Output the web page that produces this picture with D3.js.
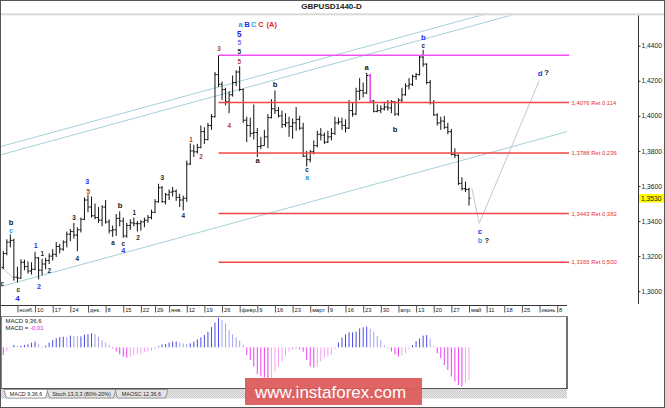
<!DOCTYPE html>
<html><head><meta charset="utf-8">
<script src="https://cdn.jsdelivr.net/npm/d3@7/dist/d3.min.js"></script>
<style>
html,body{margin:0;padding:0;background:#fff;}
svg{display:block;font-family:"Liberation Sans",Arial,sans-serif;}
</style></head><body>
<svg id="chart" width="665" height="408"></svg>
<script>
// ---------------- DATA ----------------
const title = "GBPUSD1440-D";
const startDate = "2017-10-30";
const endDate = "2018-06-08";
const holidays = ["2017-12-25", "2018-01-01"];
const monthAbbr = ["янв.","февр.","март","апр.","май","июнь","июль","авг.","сент.","окт.","нояб.","дек."];

const open = [1.3135,1.3215,1.3280,1.3290,1.3080,1.3075,1.3165,1.3140,1.3115,1.3125,1.3190,1.3120,1.3155,1.3175,1.3200,1.3210,1.3255,1.3240,1.3280,1.3325,1.3340,1.3320,1.3350,1.3410,1.3520,1.3480,1.3430,1.3420,1.3405,1.3480,1.3395,1.3345,1.3350,1.3415,1.3400,1.3315,1.3375,1.3390,1.3385,1.3385,1.3395,1.3405,1.3420,1.3450,1.3510,1.3590,1.3510,1.3550,1.3565,1.3570,1.3535,1.3520,1.3530,1.3725,1.3800,1.3795,1.3820,1.3910,1.3865,1.3945,1.3995,1.4235,1.4180,1.4150,1.4080,1.4120,1.4190,1.4250,1.4150,1.3975,1.3945,1.3900,1.3905,1.3825,1.3830,1.3880,1.3990,1.4040,1.4030,1.4000,1.3950,1.3960,1.3940,1.3960,1.3980,1.3930,1.3770,1.3750,1.3795,1.3830,1.3895,1.3890,1.3850,1.3880,1.3900,1.3960,1.3965,1.3945,1.3930,1.4030,1.4010,1.4140,1.4145,1.4130,1.4230,1.4085,1.4025,1.4030,1.4040,1.4050,1.4045,1.4080,1.4010,1.4090,1.4120,1.4170,1.4180,1.4225,1.4235,1.4335,1.4295,1.4190,1.4075,1.4005,1.3960,1.3970,1.3935,1.3910,1.3780,1.3775,1.3615,1.3585,1.3580];
const high = [1.3230,1.3296,1.3324,1.3300,1.3140,1.3182,1.3180,1.3170,1.3165,1.3225,1.3195,1.3185,1.3190,1.3215,1.3240,1.3280,1.3270,1.3290,1.3340,1.3355,1.3390,1.3365,1.3420,1.3535,1.3551,1.3540,1.3500,1.3480,1.3490,1.3520,1.3410,1.3375,1.3440,1.3455,1.3420,1.3390,1.3410,1.3420,1.3400,1.3405,1.3420,1.3435,1.3465,1.3525,1.3613,1.3600,1.3560,1.3580,1.3595,1.3580,1.3555,1.3545,1.3745,1.3843,1.3835,1.3840,1.3945,1.3935,1.3960,1.4010,1.4250,1.4345,1.4195,1.4160,1.4140,1.4230,1.4260,1.4283,1.4155,1.3995,1.3990,1.4065,1.3930,1.3880,1.3920,1.4010,1.4095,1.4145,1.4050,1.4030,1.4015,1.3995,1.3985,1.4050,1.4000,1.3960,1.3800,1.3805,1.3860,1.3915,1.3930,1.3905,1.3915,1.3930,1.3995,1.3990,1.3990,1.3980,1.4090,1.4075,1.4160,1.4215,1.4190,1.4245,1.4240,1.4090,1.4065,1.4060,1.4080,1.4090,1.4090,1.4085,1.4100,1.4160,1.4185,1.4215,1.4235,1.4245,1.4346,1.4376,1.4300,1.4205,1.4090,1.4015,1.3995,1.4000,1.3960,1.3925,1.3815,1.3780,1.3650,1.3625,1.3590];
const low = [1.3125,1.3205,1.3250,1.3060,1.3050,1.3070,1.3120,1.3100,1.3095,1.3120,1.3068,1.3090,1.3125,1.3155,1.3175,1.3195,1.3215,1.3230,1.3250,1.3285,1.3300,1.3228,1.3335,1.3405,1.3450,1.3420,1.3410,1.3390,1.3370,1.3385,1.3330,1.3310,1.3315,1.3370,1.3305,1.3305,1.3350,1.3370,1.3340,1.3345,1.3365,1.3390,1.3410,1.3445,1.3505,1.3505,1.3495,1.3520,1.3540,1.3515,1.3480,1.3460,1.3510,1.3720,1.3765,1.3785,1.3815,1.3840,1.3860,1.3920,1.3990,1.4165,1.4090,1.4060,1.4015,1.4110,1.4170,1.4140,1.3960,1.3850,1.3880,1.3865,1.3765,1.3810,1.3830,1.3815,1.3985,1.4010,1.3990,1.3930,1.3935,1.3880,1.3870,1.3915,1.3920,1.3765,1.3711,1.3735,1.3780,1.3820,1.3860,1.3840,1.3845,1.3860,1.3890,1.3950,1.3920,1.3905,1.3925,1.3995,1.4005,1.4090,1.4105,1.4125,1.4075,1.4020,1.4020,1.4015,1.4030,1.4030,1.4015,1.4000,1.4000,1.4075,1.4115,1.4150,1.4170,1.4205,1.4230,1.4280,1.4180,1.4065,1.4000,1.3945,1.3920,1.3925,1.3895,1.3775,1.3760,1.3605,1.3575,1.3565,1.3488];
const close = [1.3215,1.3280,1.3290,1.3080,1.3075,1.3165,1.3140,1.3115,1.3125,1.3190,1.3120,1.3155,1.3175,1.3200,1.3210,1.3255,1.3240,1.3280,1.3325,1.3340,1.3320,1.3350,1.3410,1.3520,1.3480,1.3430,1.3420,1.3405,1.3480,1.3395,1.3345,1.3350,1.3415,1.3400,1.3315,1.3375,1.3390,1.3385,1.3385,1.3395,1.3405,1.3420,1.3450,1.3510,1.3590,1.3510,1.3550,1.3565,1.3570,1.3535,1.3520,1.3530,1.3725,1.3800,1.3795,1.3820,1.3910,1.3865,1.3945,1.3995,1.4235,1.4180,1.4150,1.4080,1.4120,1.4190,1.4250,1.4150,1.3975,1.3945,1.3900,1.3905,1.3825,1.3830,1.3880,1.3990,1.4040,1.4030,1.4000,1.3950,1.3960,1.3940,1.3960,1.3980,1.3930,1.3770,1.3750,1.3795,1.3830,1.3895,1.3890,1.3850,1.3880,1.3900,1.3960,1.3965,1.3945,1.3930,1.4030,1.4010,1.4140,1.4145,1.4130,1.4230,1.4085,1.4025,1.4030,1.4040,1.4050,1.4045,1.4080,1.4010,1.4090,1.4120,1.4170,1.4180,1.4225,1.4235,1.4335,1.4295,1.4190,1.4075,1.4005,1.3960,1.3970,1.3935,1.3910,1.3780,1.3775,1.3615,1.3585,1.3580,1.3530];
const highlightBar = 104; // magenta bar

const macdHist = [-0.00216,-0.00112,-0.00014,0.00064,0.00036,0.00048,0.00064,0.00084,0.00132,0.00160,0.00092,0.00020,0.00048,0.00132,0.00204,0.00252,0.00288,0.00300,0.00288,0.00328,0.00316,0.00308,0.00308,0.00356,0.00372,0.00392,0.00372,0.00300,0.00204,0.00132,0.00064,-0.00028,-0.00120,-0.00196,-0.00260,-0.00288,-0.00260,-0.00216,-0.00196,-0.00176,-0.00140,-0.00120,-0.00104,-0.00048,0.00028,0.00084,0.00092,0.00132,0.00160,0.00160,0.00132,0.00112,0.00092,0.00112,0.00160,0.00224,0.00280,0.00344,0.00440,0.00568,0.00692,0.00832,0.00764,0.00672,0.00484,0.00364,0.00272,0.00188,0.00064,-0.00216,-0.00356,-0.00540,-0.00756,-0.00820,-0.00848,-0.00868,-0.00848,-0.00680,-0.00540,-0.00400,-0.00260,-0.00120,-0.00076,-0.00048,-0.00056,-0.00120,-0.00356,-0.00540,-0.00568,-0.00540,-0.00400,-0.00288,-0.00260,-0.00216,-0.00056,0.00132,0.00272,0.00364,0.00420,0.00420,0.00440,0.00532,0.00560,0.00580,0.00532,0.00440,0.00316,0.00204,0.00064,-0.00014,-0.00120,-0.00196,-0.00260,-0.00232,-0.00168,-0.00056,0.00064,0.00176,0.00252,0.00328,0.00344,0.00252,0.00036,-0.00168,-0.00308,-0.00496,-0.00636,-0.00820,-0.00960,-0.01056,-0.01100,-0.01008,-0.00916];
const macdName = "MACD 9,36,6";
const macdValueText = "-0,01";

const yTicks = [1.30,1.32,1.34,1.36,1.38,1.40,1.42,1.44];
const fibLevels = [1.4076, 1.3788, 1.3443, 1.3165];
const fibNames = ["1,4076 Ret 0,114","1,3788 Ret 0,236","1,3443 Ret 0,382","1,3165 Ret 0,500"];
const fibStartIndex = 61;
const topLevel = 1.4345;

// channels: [index, price] anchor pairs
const channels = [
  [[0,1.3829],[130,1.4544]],
  [[0,1.3782],[130,1.4497]],
  [[0,1.3030],[130,1.3746]]
];
const forecastPath = [[132.8,1.3588],[134.9,1.3387],[151.9,1.4200]];
const oldWavePath = [[-0.45,1.3139],[3.3,1.3063]];

// wave labels: [text, index, price, kind]
const waveLabels = [
  ["c",-0.3,1.3041,"ks"],
  ["b",2.18,1.3392,"k"],["c",2.18,1.3347,"sky"],
  ["c",4.25,1.3011,"ks"],["4",4.02,1.2960,"blue4"],
  ["1",9.18,1.3260,"blue"],["2",10.12,1.3029,"blue"],
  ["1",11.05,1.3215,"ks"],["2",13.04,1.3115,"ks"],
  ["3",20.04,1.3420,"ks"],["4",20.97,1.3187,"ks"],
  ["3",23.81,1.3626,"blue"],["5",24.09,1.3566,"rd"],
  ["a",31.09,1.3277,"ks"],["b",33.08,1.3491,"k"],
  ["c",34.01,1.3271,"ks"],["4",34.01,1.3230,"blue"],
  ["1",37.13,1.3446,"ks"],["2",38.18,1.3303,"ks"],
  ["3",45.07,1.3645,"ks"],["4",51.02,1.3429,"ks"],
  ["1",53.2,1.3862,"rd"],["2",56.04,1.3767,"rd"],
  ["3",61.14,1.4381,"rd"],["4",64.06,1.3944,"rd"],
  ["5",66.9,1.4468,"bigBlue"],["5",66.9,1.4420,"pu"],["5",66.9,1.4366,"ks"],["5",66.9,1.4309,"rd"],
  ["a",67.23,1.4523,"skyB"],["B",69.13,1.4523,"blueB"],["C",71.0,1.4523,"skyB"],["C",72.99,1.4523,"redB"],["(A)",76.08,1.4523,"redB"],
  ["b",77.01,1.4182,"k"],["a",72.1,1.3748,"k"],
  ["c",86.08,1.3693,"ks"],["a",86.08,1.3650,"sky"],
  ["a",103.0,1.4275,"k"],["b",111.03,1.3923,"k"],
  ["b",119.05,1.4450,"blueB"],["c",119.05,1.4400,"ks"],
  ["d",152.13,1.4246,"blueB"],["?",153.97,1.4246,"k"],
  ["c",135.12,1.3341,"blueB"],["b",135.12,1.3290,"skyB"],["?",137.02,1.3290,"k"]
];

// ---------------- BUILD ----------------
const svg = d3.select("#chart");
const W = 665, H = 408;
const plot = {left:1, right:567, top:15.5, bottom:305};
const axisX = 638.5;

// trading days
const days = [];
for (let d = new Date(startDate+"T00:00:00Z"); d <= new Date(endDate+"T00:00:00Z"); d.setUTCDate(d.getUTCDate()+1)) {
  const wd = d.getUTCDay(), iso = d.toISOString().slice(0,10);
  if (wd === 0 || wd === 6 || holidays.includes(iso)) continue;
  days.push(new Date(d));
}
const ticks = days.map((d,i)=>({d,i})).filter(o=>o.d.getUTCDay()===5)
  .map(o=>({i:o.i, label: o.d.getUTCDate()<=7 ? monthAbbr[o.d.getUTCMonth()] : String(o.d.getUTCDate())}));

const x = d3.scaleLinear().domain([0, open.length-1]).range([3.3, 469]);
const y = d3.scaleLinear().domain([1.30, 1.44]).range([291.2, 45.7]);

svg.append("rect").attr("width",W).attr("height",H).attr("fill","#fff");

const defs = svg.append("defs");
defs.append("clipPath").attr("id","mainClip").append("rect")
  .attr("x",plot.left).attr("y",plot.top).attr("width",plot.right-plot.left).attr("height",plot.bottom-plot.top);
defs.append("clipPath").attr("id","macdClip").append("rect")
  .attr("x",2).attr("y",317).attr("width",564.5).attr("height",71);
const pat = defs.append("pattern").attr("id","dots").attr("width",2).attr("height",2).attr("patternUnits","userSpaceOnUse");
pat.append("rect").attr("width",2).attr("height",2).attr("fill","#ececec");
pat.append("rect").attr("width",1).attr("height",1).attr("fill","#c4c4c4");
pat.append("rect").attr("x",1).attr("y",1).attr("width",1).attr("height",1).attr("fill","#c4c4c4");

// title
svg.append("text").attr("x",331.5).attr("y",9.4).attr("text-anchor","middle")
  .attr("font-weight","bold").attr("font-size",8).attr("fill","#222").text(title);
svg.append("rect").attr("x",1).attr("y",13.3).attr("width",663).attr("height",2).attr("fill","url(#dots)");

// main group
const main = svg.append("g").attr("clip-path","url(#mainClip)");

// channels
const i0 = x.invert(plot.left), i1 = x.invert(plot.right);
channels.forEach(ch=>{
  const [[a,pa],[b,pb]] = ch;
  const f = i => pa + (pb-pa)*(i-a)/(b-a);
  main.append("line").attr("x1",x(i0)).attr("y1",y(f(i0))).attr("x2",x(i1)).attr("y2",y(f(i1)))
    .attr("stroke","#a6d0da").attr("stroke-width",1);
});

// fib lines
const fibX1 = x(fibStartIndex), fibX2 = 569;
svg.append("line").attr("x1",fibX1).attr("x2",fibX2).attr("y1",y(topLevel)).attr("y2",y(topLevel))
  .attr("stroke","#f050f0").attr("stroke-width",1.5);
fibLevels.forEach((lv,k)=>{
  svg.append("line").attr("x1",fibX1).attr("x2",fibX2).attr("y1",y(lv)).attr("y2",y(lv))
    .attr("stroke","#f24646").attr("stroke-width",1.5);
  svg.append("text").attr("x",571.5).attr("y",y(lv)).attr("dy","0.35em")
    .attr("font-size",5.9).attr("fill","#e83030").text(fibNames[k]);
});

// wave lines
const lineGen = d3.line().x(d=>x(d[0])).y(d=>y(d[1]));
main.append("path").attr("d",lineGen(forecastPath)).attr("fill","none").attr("stroke","#c6c6cf").attr("stroke-width",1);
main.append("path").attr("d",lineGen(oldWavePath)).attr("fill","none").attr("stroke","#c6c6cf").attr("stroke-width",1);

// bars
const bars = main.append("g");
open.forEach((o,i)=>{
  const cx = x(i);
  const col = i===highlightBar ? "#e23ae2" : "#111";
  const sw = i===highlightBar ? 1.4 : 1;
  const g = bars.append("g").attr("stroke",col).attr("stroke-width",sw);
  g.append("line").attr("x1",cx).attr("x2",cx).attr("y1",y(high[i])).attr("y2",y(low[i]));
  g.append("line").attr("x1",cx-1.6).attr("x2",cx).attr("y1",y(o)).attr("y2",y(o));
  g.append("line").attr("x1",cx).attr("x2",cx+1.6).attr("y1",y(close[i])).attr("y2",y(close[i]));
});

// wave labels
const kinds = {
  k:{c:"#151515",s:7.6,w:"bold"}, ks:{c:"#252525",s:6.4,w:"bold"},
  blue:{c:"#3030ee",s:7.2,w:"bold"}, blue4:{c:"#2424e6",s:8,w:"bold"}, bigBlue:{c:"#2424e6",s:8.2,w:"bold"},
  sky:{c:"#2f8fe6",s:6.6,w:"bold"}, skyB:{c:"#2aa0e4",s:7.4,w:"bold"},
  blueB:{c:"#2030f0",s:7.8,w:"bold"}, redB:{c:"#e02424",s:7.4,w:"bold"},
  rd:{c:"#b53a3a",s:6.4,w:"bold"}, pu:{c:"#7a6cf0",s:6.6,w:"bold"}
};
const lab = svg.append("g");
waveLabels.forEach(([t,i,p,k])=>{
  const st = kinds[k];
  lab.append("text").attr("x",x(i)).attr("y",y(p)).attr("dy","0.36em").attr("text-anchor","middle")
    .attr("font-size",st.s).attr("font-weight",st.w).attr("fill",st.c).text(t);
});

// y axis
svg.append("line").attr("x1",axisX).attr("x2",axisX).attr("y1",plot.top).attr("y2",plot.bottom-1).attr("stroke","#333");
const gy = svg.append("g").attr("transform",`translate(${axisX},0)`)
  .call(d3.axisRight(y).tickValues(yTicks).tickSize(2).tickPadding(1).tickFormat(d=>d.toFixed(4).replace(".",",")));
gy.select(".domain").remove();
gy.selectAll("line").attr("stroke","#333");
gy.selectAll("text").attr("font-size",6.7).attr("fill","#222").attr("font-family","Liberation Sans, Arial, sans-serif");

// price tag
const last = close[close.length-1];
svg.append("rect").attr("x",axisX+0.5).attr("y",y(last)-4.3).attr("width",25).attr("height",8.6).attr("fill","#ffff00");
svg.append("text").attr("x",axisX+2.5).attr("y",y(last)).attr("dy","0.35em").attr("font-size",6.7).attr("fill","#111")
  .text(last.toFixed(4).replace(".",","));

// x axis
svg.append("line").attr("x1",0).attr("x2",plot.right).attr("y1",plot.bottom+0.5).attr("y2",plot.bottom+0.5).attr("stroke","#333");
const gx = svg.append("g").attr("transform",`translate(0,${plot.bottom+0.5})`)
  .call(d3.axisBottom(x).tickValues(ticks.map(t=>t.i)).tickSize(7).tickFormat((d,k)=>ticks[k].label));
gx.select(".domain").remove();
gx.selectAll("line").attr("stroke","#555");
gx.selectAll("text").attr("text-anchor","start").attr("x",1.4).attr("y",2.6).attr("dy","0.71em")
  .attr("font-size",5.8).attr("fill","#222").attr("font-family","Liberation Sans, Arial, sans-serif");

// MACD panel
const my = d3.scaleLinear().domain([-0.0114, 0.0085]).range([388, 317]);
svg.append("rect").attr("x",1.5).attr("y",316.5).attr("width",565.5).attr("height",72).attr("fill","#fff").attr("stroke","#888");
svg.append("line").attr("x1",567).attr("x2",567).attr("y1",316.5).attr("y2",389).attr("stroke","#555").attr("stroke-width",1.5);
svg.append("line").attr("x1",1.5).attr("x2",567.5).attr("y1",388.7).attr("y2",388.7).attr("stroke","#555").attr("stroke-width",1.2);
const mg = svg.append("g").attr("clip-path","url(#macdClip)");
macdHist.forEach((v,i)=>{
  const prev = i>0 ? macdHist[i-1] : v;
  let col;
  if (v >= 0) col = v >= prev ? "#4a4ae8" : "#a2a2f2";
  else col = v <= prev ? "#f03cf0" : "#f7a0f7";
  mg.append("line").attr("x1",x(i)).attr("x2",x(i)).attr("y1",my(0)).attr("y2",my(v))
    .attr("stroke",col).attr("stroke-width",1);
});
svg.append("text").attr("x",5.5).attr("y",322.6).attr("font-size",6).attr("fill","#222").text(macdName);
const t2 = svg.append("text").attr("x",5.5).attr("y",330.2).attr("font-size",6).attr("fill","#222");
t2.append("tspan").text("MACD = ");
t2.append("tspan").attr("fill","#e020e0").text(macdValueText);

// bottom tab strip
svg.append("rect").attr("x",1).attr("y",389.5).attr("width",566).attr("height",9).attr("fill","url(#dots)");
const tabs = [
  {t:"MACD 9,36,6", x0:4, x1:48, active:true},
  {t:"Stoch 13,3,3 (80%-20%)", x0:47, x1:116, active:false},
  {t:"MAOSC 12,36,6", x0:115, x1:168, active:false}
];
tabs.slice().reverse().forEach(tb=>{
  svg.append("polygon").attr("points",`${tb.x0},389.5 ${tb.x0+2.5},398 ${tb.x1-2.5},398 ${tb.x1},389.5`)
    .attr("fill",tb.active?"#fff":"#e4e4e4").attr("stroke","#777").attr("stroke-width",0.7);
  svg.append("text").attr("x",(tb.x0+tb.x1)/2).attr("y",396).attr("text-anchor","middle")
    .attr("font-size",5.4).attr("fill","#222").text(tb.t);
});

// watermark
svg.append("rect").attr("x",245).attr("y",378).attr("width",177).attr("height",27).attr("fill","rgb(221,92,92)").attr("opacity",0.95);
svg.append("text").attr("x",255).attr("y",398.4).attr("font-size",17).attr("fill","#fff").text("www.instaforex.com");

// outer frame
svg.append("rect").attr("x",0.5).attr("y",0.5).attr("width",664).attr("height",407).attr("fill","none").attr("stroke","#555");
</script>
</body></html>
